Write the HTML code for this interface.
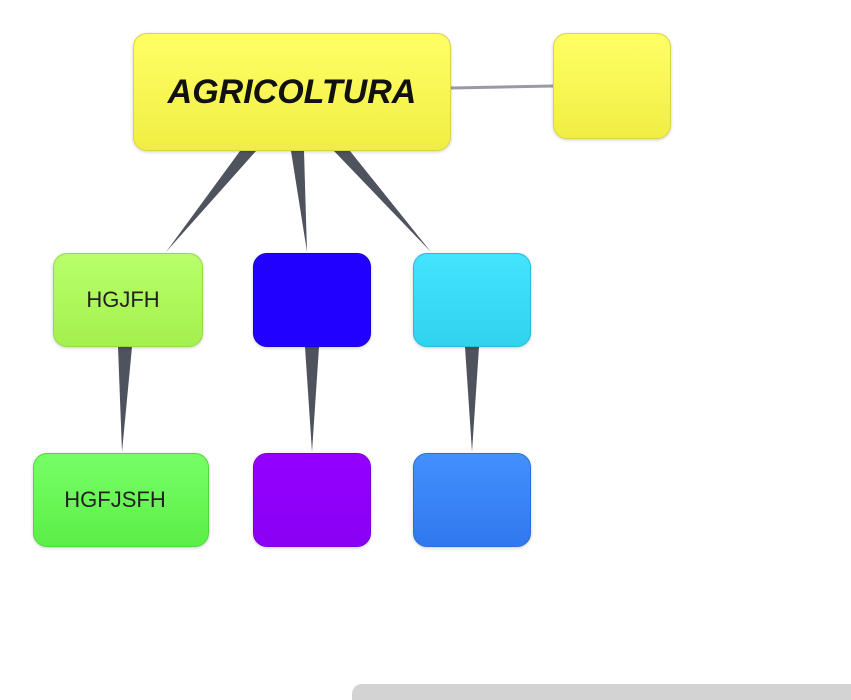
<!DOCTYPE html>
<html><head><style>
body{margin:0;background:#fff;width:851px;height:700px;overflow:hidden;position:relative;font-family:"Liberation Sans",sans-serif}
.n{position:absolute;box-sizing:border-box;border-radius:14px;display:flex;align-items:center;justify-content:center;box-shadow:0 1px 3px rgba(0,0,0,.2)}
.bar{position:absolute;left:352px;top:684px;width:499px;height:16px;background:#d3d3d3;border-top-left-radius:10px}
</style></head><body>
<svg width="851" height="700" style="position:absolute;left:0;top:0">
<line x1="451" y1="88" x2="553" y2="86" stroke="#9a9aa6" stroke-width="3"/>
<g fill="#4f535e">
<polygon points="240,151 256,151 166,252"/>
<polygon points="291,151 304,151 307,252"/>
<polygon points="334,151 350,151 431,252"/>
<polygon points="118,347 132,347 122,452"/>
<polygon points="305,347 319,347 312,452"/>
<polygon points="465,347 479,347 472,452"/>
</g>
</svg>
<div class="n" style="left:133px;top:33px;width:318px;height:118px;background:linear-gradient(#ffff66,#f0ee44);border:1px solid #d8d640"><span style="font-size:34px;font-weight:bold;font-style:italic;color:#111">AGRICOLTURA</span></div>
<div class="n" style="left:553px;top:33px;width:118px;height:106px;background:linear-gradient(#ffff66,#f0ee44);border:1px solid #d8d640"></div>
<div class="n" style="left:53px;top:253px;width:150px;height:94px;background:linear-gradient(#b8ff6a,#a4f04e);border:1px solid #96d84a"><span style="font-size:22px;color:#222;margin-left:-10px">HGJFH</span></div>
<div class="n" style="left:253px;top:253px;width:118px;height:94px;background:#2200ff;border:1px solid #1a00cc"></div>
<div class="n" style="left:413px;top:253px;width:118px;height:94px;background:linear-gradient(#44e4ff,#30d2ee);border:1px solid #28bcd8"></div>
<div class="n" style="left:33px;top:453px;width:176px;height:94px;background:linear-gradient(#77ff66,#5cee48);border:1px solid #52d640"><span style="font-size:22px;color:#222;margin-left:-12px">HGFJSFH</span></div>
<div class="n" style="left:253px;top:453px;width:118px;height:94px;background:linear-gradient(#9400ff,#8a00f4);border:1px solid #7a00d8"></div>
<div class="n" style="left:413px;top:453px;width:118px;height:94px;background:linear-gradient(#4490ff,#2f78ee);border:1px solid #2a6cd8"></div>
<div class="bar"></div>
</body></html>
